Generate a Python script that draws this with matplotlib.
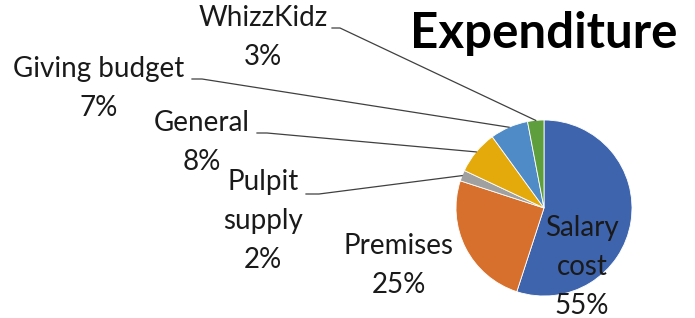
import numpy as np
import matplotlib
matplotlib.use('Agg')
import matplotlib.pyplot as plt

# expenditure breakdown, clockwise from 12 o'clock
categories = ['Salary cost', 'Premises', 'Pulpit supply', 'General', 'Giving budget', 'WhizzKidz']
shares = [55, 25, 2, 8, 7, 3]
label_text = ['Salary\ncost\n55%', 'Premises\n25%', 'Pulpit\nsupply\n2%', 'General\n8%',
              'Giving budget\n7%', 'WhizzKidz\n3%']
colors = ['#3D64AD', '#D8702D', '#A0A0A0', '#E4AA0C', '#4F8BC6', '#5E9E3D']

W, H = 695, 318
plt.rcParams['font.family'] = ['Lato', 'DejaVu Sans']

fig = plt.figure(figsize=(W / 100, H / 100), dpi=100)
ax = fig.add_axes([0, 0, 1, 1])

cx, cy, r = 544, H - 208, 88
wedges, _ = ax.pie(shares, colors=colors, startangle=90, counterclock=False,
                   center=(cx, cy), radius=r, frame=True,
                   wedgeprops=dict(edgecolor='white', linewidth=0.6))
ax.set_xlim(0, W)
ax.set_ylim(0, H)
ax.set_aspect('equal')
ax.axis('off')

fs = 20
pitch = 37  # px between label lines
# label layout: (text centre x, first baseline y in px from top, leader start x, leader length)
layout = {
    'Salary cost': (582, 240, None, 0),
    'Premises': (399, 256, None, 0),
    'Pulpit supply': (263, 194, 306, 13),
    'General': (202, 133, 257, 10),
    'Giving budget': (99, 79, 192, 10),
    'WhizzKidz': (263, 28, 332, 8),
}
for w, cat, txt in zip(wedges, categories, label_text):
    x, y, lx, ll = layout[cat]
    n = txt.count('\n')
    # va='baseline' pins the last line, so shift down by the extra lines
    ax.text(x, H - y - n * pitch, txt, ha='center', va='baseline', fontsize=fs,
            linespacing=1.62, multialignment='center', color='#1a1a1a')
    if lx is not None:
        mid = np.deg2rad((w.theta1 + w.theta2) / 2)
        ex, ey = cx + r * np.cos(mid), cy + r * np.sin(mid)
        ly = H - y
        ax.plot([lx, lx + ll, ex], [ly, ly, ey], color='#404040', lw=0.9)

ax.text(544, H - 48, 'Expenditure', ha='center', va='baseline', fontsize=35.5,
        fontweight='bold', color='black')

fig.savefig('out.png', dpi=100)
